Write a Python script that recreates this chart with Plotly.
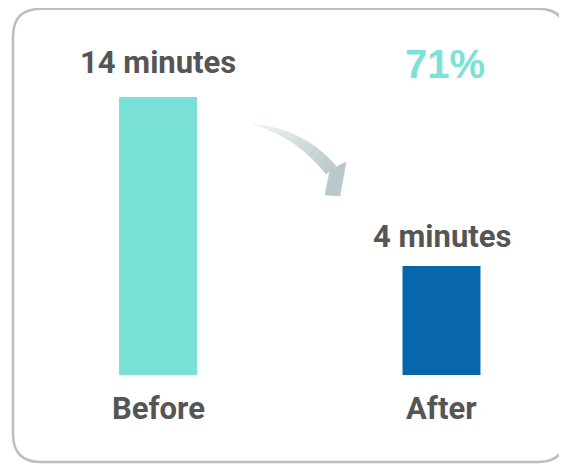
import plotly.graph_objects as go

categories = ["Before", "After"]
minutes = [14, 4]
value_labels = ["14 minutes", "4 minutes"]
bar_colors = ["#7AE1D9", "#0866AA"]

PAGE_W, PAGE_H = 567, 465
OFF = 8  # default page body margin
W, H = PAGE_W - OFF, PAGE_H - OFF
BASE = -2.45

def px(x):
    return (x - OFF) / W

def py(y):
    return 1 - (y - OFF) / H

fig = go.Figure()
fig.add_trace(go.Bar(
    x=categories, y=[m - BASE for m in minutes], base=[BASE, BASE],
    marker=dict(color=bar_colors, line=dict(width=0)),
    width=0.275, hoverinfo="skip",
))

label_font = dict(family="Roboto, Open Sans, sans-serif", size=31, color="#555555")
value_shift = [14, 9]
anns = []
for c, m, t, s in zip(categories, minutes, value_labels, value_shift):
    anns.append(dict(x=c, y=m, xref="x", yref="y", text="<b>%s</b>" % t,
                     showarrow=False, yanchor="bottom", yshift=s, font=label_font))
    anns.append(dict(x=c, y=BASE, xref="x", yref="y", text="<b>%s</b>" % c,
                     showarrow=False, yanchor="top", yshift=-13, font=label_font))

pct = round((minutes[0] - minutes[1]) / minutes[0] * 100)
anns.append(dict(x=px(445), y=py(64), xref="paper", yref="paper",
                 xanchor="center", yanchor="middle",
                 text="<b>%d%%</b>" % pct, showarrow=False,
                 font=dict(family="Liberation Sans, Arial, sans-serif", size=40, color="#7DE2D6")))

shapes = []
# rounded border
L, T, R, B, r = 13, 8.8, 566, 462, 28
path = ("M %f,%f L %f,%f Q %f,%f %f,%f L %f,%f Q %f,%f %f,%f L %f,%f Q %f,%f %f,%f L %f,%f Q %f,%f %f,%f Z" % (
    px(L + r), py(T), px(R - r), py(T), px(R), py(T), px(R), py(T + r),
    px(R), py(B - r), px(R), py(B), px(R - r), py(B),
    px(L + r), py(B), px(L), py(B), px(L), py(B - r),
    px(L), py(T + r), px(L), py(T), px(L + r), py(T)))
shapes.append(dict(type="path", path=path, xref="paper", yref="paper",
                   line=dict(color="#BEBEBE", width=2.5), fillcolor="rgba(0,0,0,0)", layer="below"))

# curved arrow with a gradient, built from segments
def bez(t, p0, p1, p2):
    return ((1 - t) ** 2 * p0[0] + 2 * (1 - t) * t * p1[0] + t * t * p2[0],
            (1 - t) ** 2 * p0[1] + 2 * (1 - t) * t * p1[1] + t * t * p2[1])

up0, up1, up2 = (251, 124), (303, 128), (336, 166)
lo0, lo1, lo2 = (251, 124), (296, 136), (326, 174)
N = 14
c0 = (244, 247, 248)
c1 = (186, 202, 205)
for i in range(N):
    t0, t1 = i / N, (i + 1) / N
    a = bez(t0, up0, up1, up2); b = bez(t1, up0, up1, up2)
    c = bez(t1, lo0, lo1, lo2); d = bez(t0, lo0, lo1, lo2)
    f = (i + 0.5) / N
    col = "rgb(%d,%d,%d)" % tuple(int(c0[k] + (c1[k] - c0[k]) * f) for k in range(3))
    p = "M %f,%f L %f,%f L %f,%f L %f,%f Z" % (px(a[0]), py(a[1]), px(b[0]), py(b[1]),
                                             px(c[0]), py(c[1]), px(d[0]), py(d[1]))
    shapes.append(dict(type="path", path=p, xref="paper", yref="paper",
                       fillcolor=col, line=dict(color=col, width=0.6)))
head = "M %f,%f L %f,%f L %f,%f L %f,%f Z" % (px(346), py(162), px(340), py(196),
                                           px(325), py(195), px(330), py(170))
shapes.append(dict(type="path", path=head, xref="paper", yref="paper",
                   fillcolor="rgb(184,200,203)", line=dict(color="rgb(184,200,203)", width=0.6)))

k = 16.9
unit = 283.5
fig.update_layout(
    width=W, height=H, margin=dict(l=0, r=0, t=0, b=0),
    paper_bgcolor="white", plot_bgcolor="white", showlegend=False,
    xaxis=dict(range=[-(158 - OFF) / unit, (PAGE_W - 158) / unit], visible=False, fixedrange=True),
    yaxis=dict(range=[BASE - (PAGE_H - 375) / k, BASE + (375 - OFF) / k], visible=False, fixedrange=True),
    annotations=anns, shapes=shapes,
)
fig.write_html("out.html")
